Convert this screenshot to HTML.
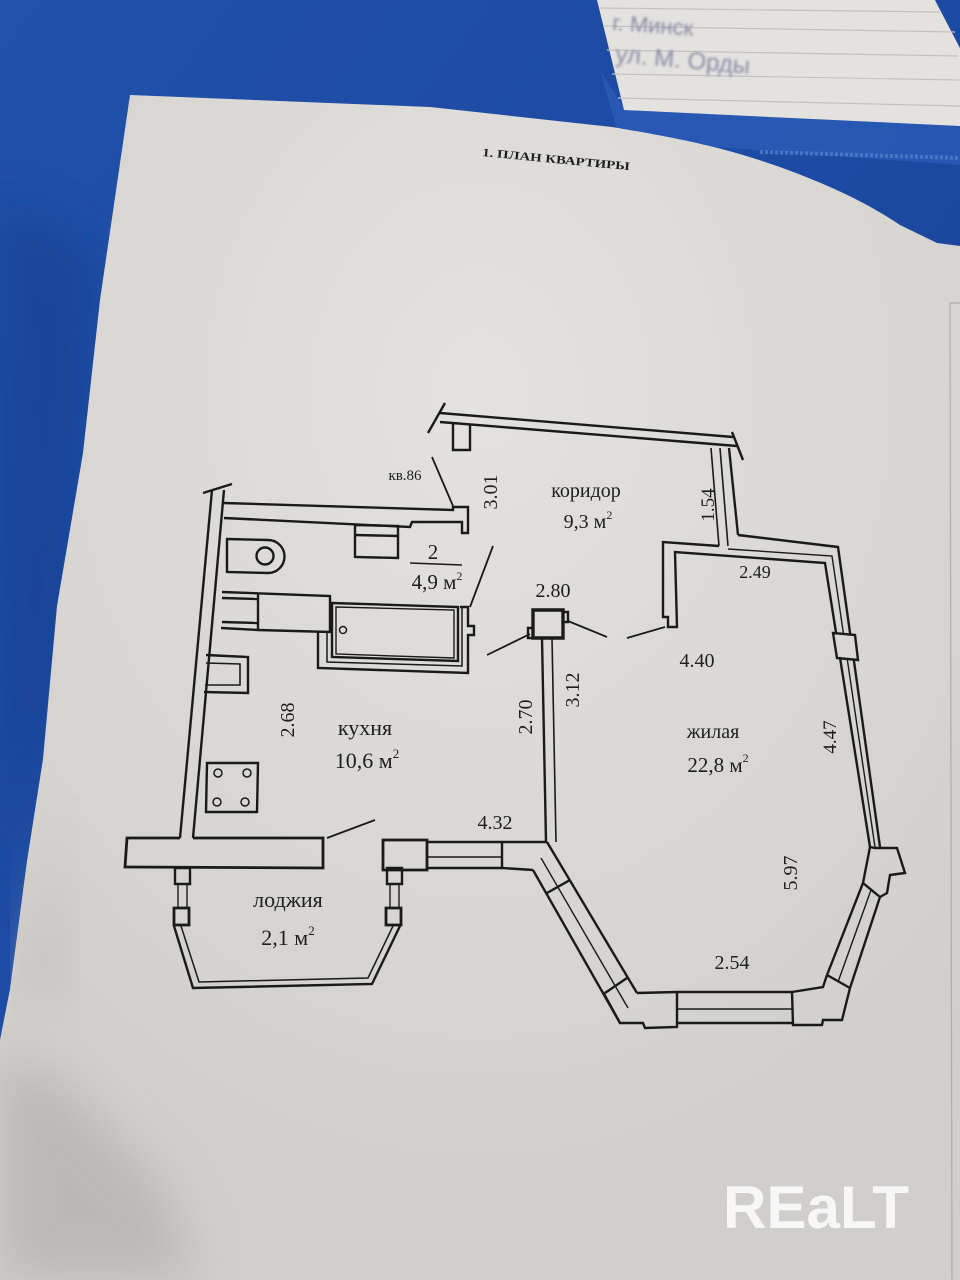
<!DOCTYPE html>
<html><head><meta charset="utf-8"><style>
html,body{margin:0;padding:0;background:#1e4ea6;}
svg{display:block;}
.t{font-family:"Liberation Serif","Noto Serif CJK SC",serif;fill:#1e1e1e;}
</style></head><body>
<svg width="960" height="1280" viewBox="0 0 960 1280" xmlns="http://www.w3.org/2000/svg">
<defs>
<linearGradient id="blue" x1="0" y1="0" x2="1" y2="1">
<stop offset="0" stop-color="#2151a9"/><stop offset="0.5" stop-color="#1d4aa2"/><stop offset="1" stop-color="#17398a"/>
</linearGradient>
<radialGradient id="hl" cx="0.5" cy="0.25" r="0.7">
<stop offset="0" stop-color="#e4e2df"/><stop offset="0.6" stop-color="#d9d7d3"/><stop offset="1" stop-color="#d1cfcb"/>
</radialGradient>
<filter id="bl" x="-20%" y="-20%" width="140%" height="140%"><feGaussianBlur stdDeviation="25"/></filter>
<filter id="bl2"><feGaussianBlur stdDeviation="1.3"/></filter>
</defs>
<rect width="960" height="1280" fill="url(#blue)"/>
<path d="M0,200 L100,260 L60,700 L0,900 Z" fill="#173d8d" opacity="0.6" filter="url(#bl)"/>
<!-- sleeve -->
<path d="M600,70 L625,110 L960,125 L960,165 L620,140 Z" fill="#2a5bb6" opacity="0.8"/>
<path d="M760,152 L960,158" stroke="#4f7fcc" stroke-width="4" stroke-dasharray="3,2" opacity="0.8"/>
<!-- note card -->
<path d="M597,0 L935,0 L960,48 L960,126 L624,110 Z" fill="#e3e2df"/>
<path d="M935,0 L960,0 L960,48 Z" fill="#1d4aa2"/>
<g stroke="#c3c2c0" stroke-width="1.2" fill="none">
<path d="M600,8 L940,12"/><path d="M603,26 L955,32"/><path d="M607,50 L958,56"/><path d="M612,74 L960,80"/><path d="M618,98 L960,106"/>
</g>
<g filter="url(#bl2)">
<text x="612" y="30" font-family="Liberation Sans, sans-serif" font-size="22" fill="#8a8ca6" transform="rotate(4 612 30)">г. Минск</text>
<text x="615" y="62" font-family="Liberation Sans, sans-serif" font-size="24" fill="#8a8ca6" transform="rotate(5 615 62)">ул. М. Орды</text>
</g>
<!-- paper -->
<path d="M130,95 L430,107 L612,127 C690,140 735,150 796,173 C840,190 870,205 900,225 L937,243 L960,246 L960,1280 L0,1280 L0,1040 L10,989 L27,861 L43,759 L57,606 L83,453 L100,300 Z" fill="url(#hl)"/>
<path d="M0,1050 L60,1080 L160,1180 L200,1280 L0,1280 Z" fill="#a9a7a4" opacity="0.55" filter="url(#bl)"/>
<path d="M60,820 L20,1000 L70,1000 Z" fill="#b5b3b0" opacity="0.5" filter="url(#bl)"/>
<path d="M950,303 L960,303 M950,303 L952,1280" stroke="#9d9c99" stroke-width="1.2" fill="none" opacity="0.7"/>
<text class="t" x="482" y="156" font-size="11.5" font-weight="bold" textLength="148" lengthAdjust="spacingAndGlyphs" transform="rotate(5.5 482 156)">1. ПЛАН КВАРТИРЫ</text>

<g fill="none" stroke="#1a1a1a" stroke-width="2.4" stroke-linejoin="miter">
<path d="M440,413 L733,437"/><path d="M440,422 L737,446"/>
<path d="M428,433 L445,403"/><path d="M732,432 L743,460"/>
<path d="M453,423 L453,450 L470,450 L470,424"/>
<path d="M711,448 L719,546" stroke-width="1.6"/><path d="M720,448 L728,546" stroke-width="1.6"/><path d="M729,448 L738,535"/>
<path d="M719,546 L663,542 L663,617 L668,617 L668,627 L677,627 L675,552 L825,563 L870,847"/>
<path d="M738,535 L838,547 L880,847"/>
<path d="M728,549 L832,556 L875,847" stroke-width="1.4"/>
<path d="M833,633 L855,635 L858,660 L837,658 Z" fill="#dad8d4"/>
<path d="M870,847 L875,848 L897,848 L905,873 L890,875 L887,893 L880,897"/>
<path d="M863,883 L870,847"/>
<path d="M863,883 L827,975"/><path d="M880,897 L850,988"/><path d="M871,890 L838,982" stroke-width="1.4"/>
<path d="M863,883 L880,897"/><path d="M827,975 L850,988"/>
<path d="M792,992 L823,987 L827,975"/>
<path d="M850,988 L842,1020 L823,1020 L822,1025 L793,1025 L792,992"/>
<path d="M677,992 L792,992"/><path d="M677,1009 L792,1009" stroke-width="1.6"/><path d="M677,1023 L793,1023"/>
<path d="M677,992 L677,1027 L645,1028 L643,1023 L620,1023 L603,992"/>
<path d="M637,993 L677,992"/>
<path d="M547,842 L637,993"/>
<path d="M533,870 L620,1023"/>
<path d="M541,858 L628,1008" stroke-width="1.4"/>
<path d="M547,893 L570,880"/><path d="M605,993 L627,978"/>
<path d="M502,842 L547,842"/><path d="M502,842 L502,868 L533,870"/>
<path d="M427,842 L502,842"/><path d="M427,857 L502,857" stroke-width="1.5"/><path d="M427,868 L502,868"/>
<path d="M383,840 L427,840 L427,870 L383,870 Z" stroke-width="2.8"/>
<path d="M542,638 L546,842"/><path d="M552,638 L556,842" stroke-width="1.6"/>
<path d="M533,610 L563,610 L563,638 L533,638 Z" stroke-width="3.4"/>
<path d="M533,628 L528,628 L528,638 L533,638"/>
<path d="M563,612 L568,612 L568,622 L563,622"/>
<path d="M530,634 L487,655" stroke-width="1.8"/>
<path d="M568,621 L607,637" stroke-width="1.8"/>
<path d="M665,627 L627,638" stroke-width="1.8"/>
<path d="M212,490 L180,838"/><path d="M224,490 L193,838"/>
<path d="M203,493 L232,484"/>
<path d="M224,503 L453,510 L453,507 L468,507 L468,533 L462,533 L462,522 L412,522 L410,527 L224,518"/>
<path d="M453,506 L432,457" stroke-width="1.8"/>
<path d="M355,525 L398,526 L398,558 L355,557 Z"/><path d="M355,535 L398,536"/>
<path d="M227,539 L268,540 A16.5,16.5 0 0 1 268,573 L227,572 Z"/>
<circle cx="265" cy="556" r="8.5"/>
<path d="M410,563 L462,565" stroke-width="1.6"/>
<path d="M470,607 L493,546" stroke-width="1.8"/>
<path d="M222,592 L330,596 L330,632 L258,630 L221,628"/>
<path d="M258,594 L258,630"/><path d="M222,598 L258,599"/><path d="M222,622 L258,623"/>
<path d="M332,603 L458,607 L458,661 L332,657 Z"/>
<path d="M336,607 L454,610 L454,658 L336,654 Z" stroke-width="1.4"/>
<circle cx="343" cy="630" r="3.5" stroke-width="1.5"/>
<path d="M318,632 L318,668 L468,673 L468,635 L474,635 L474,626 L468,626 L468,607 L460,607"/>
<path d="M327,632 L327,662 L462,666 L462,607" stroke-width="1.5"/>
<path d="M206,655 L248,657 L248,693 L204,692"/>
<path d="M206,663 L240,664 L240,685 L205,685" stroke-width="1.6"/>
<path d="M207,763 L258,763 L257,812 L206,812 Z"/>
<circle cx="218" cy="773" r="4" stroke-width="1.5"/><circle cx="247" cy="773" r="4" stroke-width="1.5"/>
<circle cx="217" cy="802" r="4" stroke-width="1.5"/><circle cx="245" cy="802" r="4" stroke-width="1.5"/>
<path d="M180,838 L127,838 L125,867 L323,868 L323,838 L193,838" stroke-width="2.8"/>
<path d="M327,838 L375,820" stroke-width="1.8"/>
<path d="M175,868 L190,868 L190,884 L175,884 Z"/><path d="M178,884 L178,908 M187,884 L187,908" stroke-width="1.4"/>
<path d="M174,908 L189,908 L189,925 L174,925 Z" stroke-width="2.8"/>
<path d="M387,868 L402,868 L402,884 L387,884 Z"/><path d="M390,884 L390,908 M399,884 L399,908" stroke-width="1.4"/>
<path d="M386,908 L401,908 L401,925 L386,925 Z" stroke-width="2.8"/>
<path d="M174,926 L193,988 L372,984 L400,926"/>
<path d="M181,926 L199,982 L368,978 L393,926" stroke-width="1.5"/>
</g>

<g class="t">
<text x="405" y="480" font-size="15" text-anchor="middle">кв.86</text>
<text x="0" y="0" font-size="20" text-anchor="middle" transform="translate(497,492) rotate(-90)">3.01</text>
<text x="586" y="497" font-size="20" text-anchor="middle">коридор</text>
<text x="588" y="528" font-size="20" text-anchor="middle">9,3 м<tspan font-size="12" dy="-9">2</tspan></text>
<text x="0" y="0" font-size="19" text-anchor="middle" transform="translate(714,505) rotate(-90)">1.54</text>
<text x="755" y="578" font-size="18" text-anchor="middle">2.49</text>
<text x="433" y="559" font-size="21" text-anchor="middle">2</text>
<text x="437" y="589" font-size="21" text-anchor="middle">4,9 м<tspan font-size="12" dy="-9">2</tspan></text>
<text x="553" y="597" font-size="20" text-anchor="middle">2.80</text>
<text x="697" y="667" font-size="20" text-anchor="middle">4.40</text>
<text x="0" y="0" font-size="20" text-anchor="middle" transform="translate(579,690) rotate(-90)">3.12</text>
<text x="0" y="0" font-size="20" text-anchor="middle" transform="translate(532,717) rotate(-90)">2.70</text>
<text x="0" y="0" font-size="20" text-anchor="middle" transform="translate(294,720) rotate(-90)">2.68</text>
<text x="365" y="735" font-size="22" text-anchor="middle">кухня</text>
<text x="367" y="768" font-size="22" text-anchor="middle">10,6 м<tspan font-size="13" dy="-10">2</tspan></text>
<text x="713" y="738" font-size="20" text-anchor="middle">жилая</text>
<text x="718" y="772" font-size="21" text-anchor="middle">22,8 м<tspan font-size="12" dy="-10">2</tspan></text>
<text x="0" y="0" font-size="19" text-anchor="middle" transform="translate(836,737) rotate(-90)">4.47</text>
<text x="495" y="829" font-size="20" text-anchor="middle">4.32</text>
<text x="0" y="0" font-size="20" text-anchor="middle" transform="translate(797,873) rotate(-90)">5.97</text>
<text x="288" y="907" font-size="22" text-anchor="middle">лоджия</text>
<text x="288" y="945" font-size="22" text-anchor="middle">2,1 м<tspan font-size="13" dy="-10">2</tspan></text>
<text x="732" y="969" font-size="20" text-anchor="middle">2.54</text>
</g>

<text x="723" y="1228" font-family="Liberation Sans, sans-serif" font-weight="bold" font-size="60" fill="#ffffff" opacity="0.85" textLength="186" lengthAdjust="spacingAndGlyphs">REaLT</text>
</svg>
</body></html>
